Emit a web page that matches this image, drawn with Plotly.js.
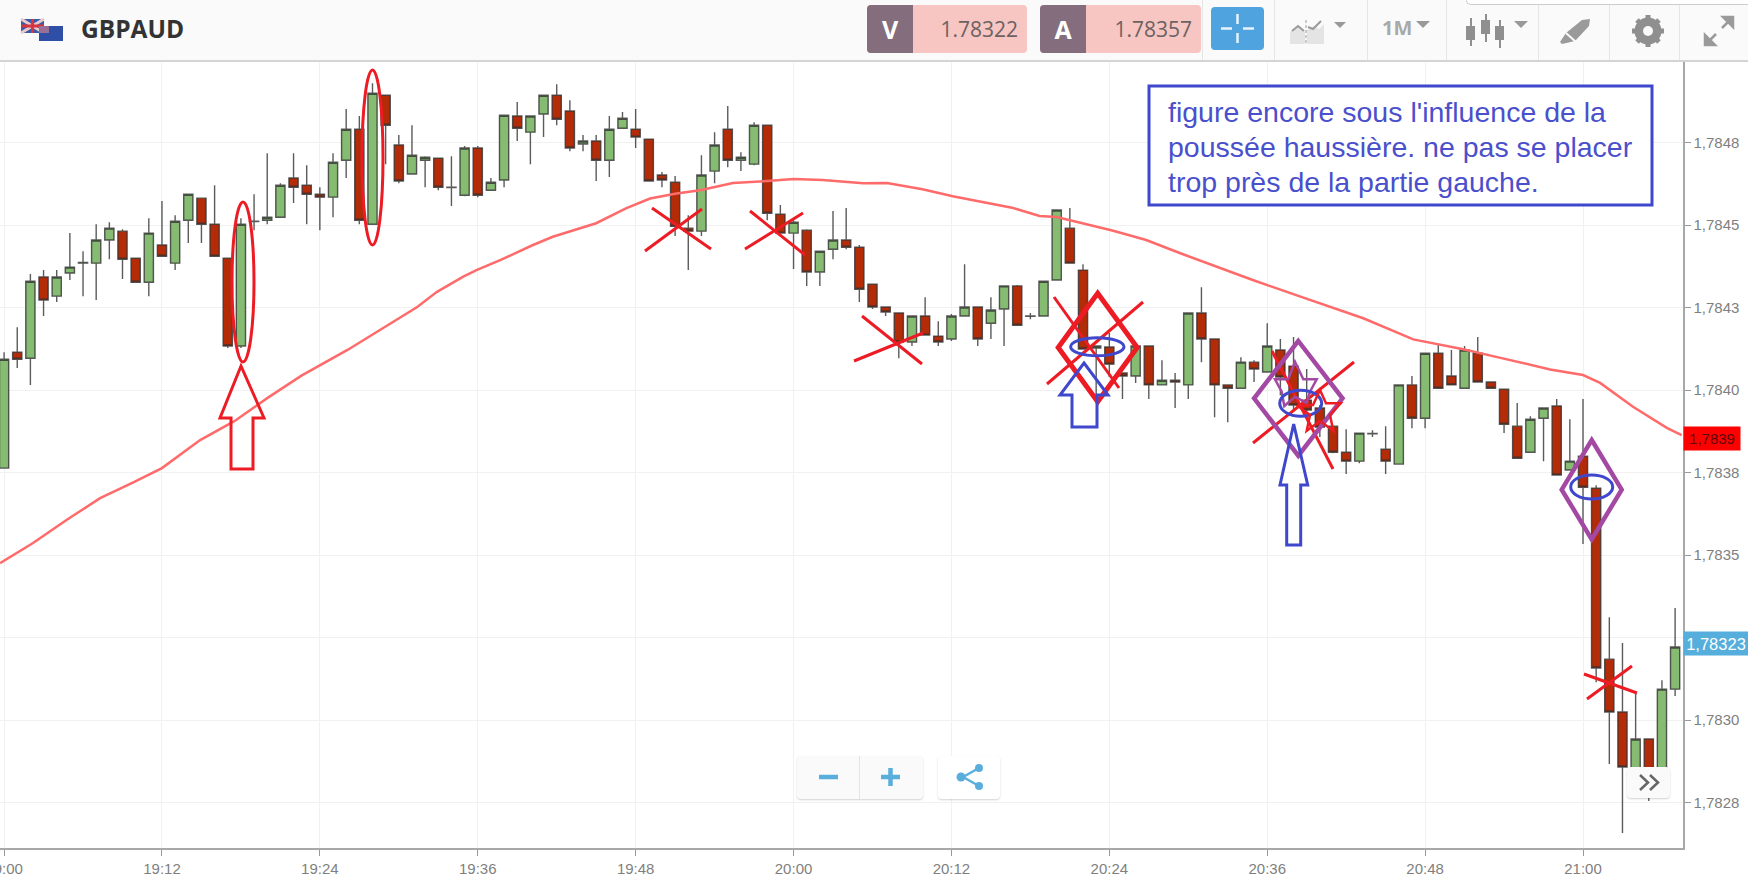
<!DOCTYPE html>
<html>
<head>
<meta charset="utf-8">
<title>GBPAUD</title>
<script src="https://cdn.plot.ly/plotly-3.0.1.min.js"></script>
<style>
  html, body { margin: 0; padding: 0; background: #fff; overflow: hidden; }
  #chart { position: absolute; left: 0; top: 0; width: 1748px; height: 888px; }
  #bar { position: absolute; left: 0; top: 0; width: 1748px; height: 60px; background: #fafafa; border-bottom: 2px solid #d4d4d4; font-family: "Open Sans", sans-serif; }
  .abs { position: absolute; box-sizing: border-box; }
  .pair { top: 5px; height: 48px; font-size: 21px; color: #6b6263; background: #f7c5c2; border-radius: 4px; text-align: right; line-height: 48px; padding-right: 9px; }
  .side { left: 0; top: 0; width: 46px; height: 48px; background: #846e7e; color: #fff; font-weight: 700; font-size: 25px; text-align: center; border-radius: 4px 0 0 4px; }
  .sep { top: 0; width: 1px; height: 60px; background: #e6e6e6; }
  .ctl { background: #fafafa; border-radius: 4px; box-shadow: 0 1px 2px rgba(0,0,0,.18); }
</style>
</head>
<body>
<div id="chart"></div>
<div id="bar">
  <svg class="abs" style="left:20px;top:18px" width="46" height="24" viewBox="0 0 46 24">
    <rect x="1" y="1" width="23" height="14" fill="#3b5aa8"/>
    <path d="M1 1L24 15M24 1L1 15" stroke="#e8c9cc" stroke-width="3"/>
    <path d="M12.5 1V15M1 8H24" stroke="#d8343f" stroke-width="3"/>
    <rect x="19" y="8" width="24" height="15" fill="#2f4fa6"/>
    <rect x="19" y="8" width="10" height="7" fill="#9a6f96"/>
  </svg>
  <div class="abs" style="left:81px;top:12px;font-size:24.5px;font-weight:700;color:#333">GBPAUD</div>
  <div class="abs pair" style="left:867px;width:160px"><div class="abs side">V</div>1.78322</div>
  <div class="abs pair" style="left:1040px;width:161px"><div class="abs side">A</div>1.78357</div>
  <div class="abs sep" style="left:1202px"></div>
  <div class="abs sep" style="left:1274px"></div>
  <div class="abs sep" style="left:1367px"></div>
  <div class="abs sep" style="left:1446px"></div>
  <div class="abs sep" style="left:1538px"></div>
  <div class="abs sep" style="left:1609px"></div>
  <div class="abs sep" style="left:1679px"></div>
  <div class="abs" style="left:1211px;top:7px;width:53px;height:43px;background:#4fa3de;border-radius:4px"></div>
  <svg class="abs" style="left:1211px;top:7px" width="53" height="43">
    <path d="M26.5 7V17M26.5 26V36M10 21.5H21M32 21.5H43" stroke="#e8f3fb" stroke-width="2.5"/>
  </svg>
  <svg class="abs" style="left:1290px;top:14px" width="70" height="32">
    <path d="M0 18L8 12L15 18L15 30L0 30Z" fill="#e4e4e4"/>
    <path d="M17 30V16L24 12L29 15L34 10V30Z" fill="#e4e4e4"/>
    <path d="M2 17L8 12L14 17M18 13L23 15L31 7" fill="none" stroke="#9a9a9a" stroke-width="2"/>
    <path d="M16 6V31" stroke="#bbb" stroke-width="1.5" stroke-dasharray="3 2"/>
    <path d="M44 8H56L50 14Z" fill="#999"/>
  </svg>
  <div class="abs" style="left:1382px;top:14px;font-size:20px;font-weight:700;color:#a9a9a9">1M</div>
  <svg class="abs" style="left:1415px;top:20px" width="20" height="10"><path d="M1 1H15L8 8Z" fill="#999"/></svg>
  <svg class="abs" style="left:1464px;top:12px" width="70" height="38">
    <path d="M7 6V34M22 2V30M36 8V36" stroke="#8f8f8f" stroke-width="2"/>
    <rect x="2" y="14" width="9" height="14" fill="#8f8f8f"/>
    <rect x="17" y="8" width="9" height="14" fill="#8f8f8f"/>
    <rect x="31" y="14" width="9" height="14" fill="#8f8f8f"/>
    <path d="M50 9H64L57 16Z" fill="#999"/>
  </svg>
  <svg class="abs" style="left:1558px;top:16px" width="36" height="30">
    <path d="M2 26L8 17L24 4L32 3L31 10L17 25L4 28Z" fill="#9a9a9a"/>
    <path d="M8 17L18 26" stroke="#fafafa" stroke-width="2"/>
  </svg>
  <svg class="abs" style="left:1630px;top:13px" width="36" height="36" viewBox="0 0 36 36">
    <circle cx="18" cy="18" r="10" fill="none" stroke="#8f8f8f" stroke-width="7"/>
    <path d="M18 2V34M2 18H34M7 7L29 29M29 7L7 29" stroke="#8f8f8f" stroke-width="5"/>
    <circle cx="18" cy="18" r="5" fill="#fafafa"/>
  </svg>
  <svg class="abs" style="left:1702px;top:15px" width="34" height="32">
    <path d="M21 2H31V12ZM3 30V20L13 30ZM29 4L20 13M5 28L14 19" fill="#9a9a9a" stroke="#9a9a9a" stroke-width="2.5"/>
  </svg>
  <div class="abs" style="left:1466px;top:-4px;width:290px;height:9px;background:#fff;border:1px solid #ccc;border-radius:6px"></div>
</div>
<div class="abs ctl" style="left:797px;top:756px;width:126px;height:43px"></div>
<div class="abs" style="left:859px;top:756px;width:1px;height:43px;background:#e4e4e4"></div>
<div class="abs ctl" style="left:938px;top:756px;width:62px;height:43px;background:#fff"></div>
<svg class="abs" style="left:797px;top:756px" width="203" height="43">
  <path d="M22 21H41M84 21H103M93.500 12V30" stroke="#5aaedc" stroke-width="4.500"/>
  <path d="M166 21L182 12M166 21L182 30" stroke="#5aaedc" stroke-width="2.500"/>
  <circle cx="164" cy="21" r="4.500" fill="#5aaedc"/>
  <circle cx="182" cy="12" r="4" fill="#5aaedc"/>
  <circle cx="182" cy="30" r="4" fill="#5aaedc"/>
</svg>
<div class="abs ctl" style="left:1627px;top:767px;width:43px;height:31px"></div>
<svg class="abs" style="left:1627px;top:767px" width="43" height="31">
  <path d="M13 8L21 15.500L13 23M23 8L31 15.500L23 23" fill="none" stroke="#666" stroke-width="2.500"/>
</svg>
<script>
// candles, one per minute from 19:00 (index = minutes after 19:00)
const opens = [
  1.783764, 1.784115, 1.784097, 1.784343, 1.784285, 1.784355, 1.784385, 1.784385, 1.784455, 1.784482,
  1.784400, 1.784327, 1.784440, 1.784385, 1.784515, 1.784582, 1.784503, 1.784400, 1.784134, 1.784511,
  1.784515, 1.784524, 1.784643, 1.784621, 1.784594, 1.784585, 1.784697, 1.784791, 1.784503, 1.784894,
  1.784743, 1.784655, 1.784697, 1.784703, 1.784614, 1.784591, 1.784734, 1.784606, 1.784637, 1.784831,
  1.784782, 1.784837, 1.784894, 1.784846, 1.784746, 1.784755, 1.784697, 1.784794, 1.784791, 1.784761,
  1.784652, 1.784630, 1.784491, 1.784482, 1.784664, 1.784791, 1.784697, 1.784685, 1.784803, 1.784533,
  1.784476, 1.784485, 1.784358, 1.784427, 1.784455, 1.784433, 1.784321, 1.784252, 1.784234, 1.784146,
  1.784225, 1.784164, 1.784155, 1.784225, 1.784252, 1.784203, 1.784246, 1.784316, 1.784224, 1.784225,
  1.784334, 1.784491, 1.784364, 1.784128, 1.784131, 1.784052, 1.784043, 1.784134, 1.784016, 1.784030,
  1.784016, 1.784234, 1.784155, 1.784016, 1.784006, 1.784085, 1.784055, 1.784122, 1.784073, 1.783970,
  1.783946, 1.783891, 1.783812, 1.783785, 1.783868, 1.783821, 1.783776, 1.784016, 1.783915, 1.784112,
  1.784043, 1.784006, 1.784112, 1.784025, 1.784003, 1.783891, 1.783812, 1.783915, 1.783952, 1.783758,
  1.783800, 1.783703, 1.783185, 1.783025, 1.782803, 1.782943, 1.782849, 1.783094
]
const closes = [
  1.784094, 1.784094, 1.784330, 1.784273, 1.784343, 1.784373, 1.784387, 1.784455, 1.784491, 1.784397,
  1.784327, 1.784476, 1.784406, 1.784512, 1.784594, 1.784503, 1.784406, 1.784134, 1.784503, 1.784512,
  1.784524, 1.784621, 1.784615, 1.784594, 1.784585, 1.784691, 1.784791, 1.784515, 1.784900, 1.784803,
  1.784634, 1.784712, 1.784706, 1.784615, 1.784615, 1.784734, 1.784591, 1.784630, 1.784833, 1.784794,
  1.784831, 1.784894, 1.784821, 1.784734, 1.784755, 1.784697, 1.784791, 1.784824, 1.784767, 1.784634,
  1.784637, 1.784497, 1.784482, 1.784652, 1.784743, 1.784697, 1.784706, 1.784803, 1.784536, 1.784476,
  1.784509, 1.784358, 1.784421, 1.784455, 1.784433, 1.784306, 1.784252, 1.784237, 1.784146, 1.784225,
  1.784167, 1.784146, 1.784225, 1.784252, 1.784155, 1.784243, 1.784316, 1.784197, 1.784225, 1.784330,
  1.784546, 1.784385, 1.784125, 1.784134, 1.784079, 1.784043, 1.784134, 1.784016, 1.784030, 1.784025,
  1.784234, 1.784155, 1.784016, 1.784006, 1.784085, 1.784064, 1.784134, 1.784040, 1.783955, 1.783940,
  1.783888, 1.783812, 1.783785, 1.783870, 1.783869, 1.783785, 1.784016, 1.783915, 1.784112, 1.784006,
  1.784016, 1.784122, 1.784025, 1.784006, 1.783897, 1.783794, 1.783912, 1.783946, 1.783743, 1.783785,
  1.783706, 1.783158, 1.783025, 1.782858, 1.782943, 1.782803, 1.783094, 1.783222
]
const highs = [
  1.784115, 1.784191, 1.784352, 1.784364, 1.784364, 1.784476, 1.784421, 1.784503, 1.784509, 1.784488,
  1.784400, 1.784521, 1.784573, 1.784530, 1.784594, 1.784582, 1.784621, 1.784400, 1.784521, 1.784594,
  1.784718, 1.784627, 1.784718, 1.784682, 1.784615, 1.784718, 1.784852, 1.784831, 1.784930, 1.784894,
  1.784773, 1.784803, 1.784709, 1.784703, 1.784709, 1.784740, 1.784740, 1.784643, 1.784834, 1.784873,
  1.784831, 1.784894, 1.784927, 1.784879, 1.784773, 1.784773, 1.784831, 1.784843, 1.784852, 1.784761,
  1.784661, 1.784649, 1.784530, 1.784712, 1.784782, 1.784861, 1.784721, 1.784812, 1.784803, 1.784561,
  1.784515, 1.784488, 1.784421, 1.784543, 1.784552, 1.784440, 1.784321, 1.784252, 1.784234, 1.784225,
  1.784282, 1.784209, 1.784231, 1.784382, 1.784252, 1.784282, 1.784316, 1.784319, 1.784234, 1.784330,
  1.784546, 1.784552, 1.784382, 1.784134, 1.784173, 1.784052, 1.784134, 1.784134, 1.784091, 1.784052,
  1.784234, 1.784312, 1.784155, 1.784016, 1.784100, 1.784091, 1.784203, 1.784155, 1.784161, 1.784064,
  1.783955, 1.783891, 1.783882, 1.783870, 1.783879, 1.783891, 1.784016, 1.784043, 1.784112, 1.784137,
  1.784122, 1.784134, 1.784161, 1.784025, 1.784003, 1.783961, 1.783921, 1.783946, 1.783973, 1.783912,
  1.783973, 1.783712, 1.783312, 1.783234, 1.783082, 1.782943, 1.783121, 1.783340
]
const lows = [
  1.783764, 1.784067, 1.784016, 1.784225, 1.784267, 1.784334, 1.784285, 1.784273, 1.784397, 1.784337,
  1.784327, 1.784285, 1.784406, 1.784364, 1.784446, 1.784446, 1.784406, 1.784128, 1.784128, 1.784485,
  1.784503, 1.784524, 1.784567, 1.784503, 1.784485, 1.784524, 1.784643, 1.784503, 1.784503, 1.784685,
  1.784627, 1.784655, 1.784615, 1.784606, 1.784558, 1.784588, 1.784585, 1.784606, 1.784615, 1.784755,
  1.784685, 1.784767, 1.784803, 1.784724, 1.784724, 1.784634, 1.784646, 1.784794, 1.784734, 1.784634,
  1.784615, 1.784467, 1.784364, 1.784467, 1.784627, 1.784676, 1.784664, 1.784682, 1.784515, 1.784476,
  1.784367, 1.784316, 1.784316, 1.784397, 1.784427, 1.784267, 1.784246, 1.784225, 1.784097, 1.784134,
  1.784167, 1.784134, 1.784149, 1.784225, 1.784134, 1.784155, 1.784134, 1.784197, 1.784215, 1.784225,
  1.784334, 1.784385, 1.784125, 1.783979, 1.784040, 1.783973, 1.784022, 1.783973, 1.784016, 1.783946,
  1.783973, 1.784085, 1.783918, 1.783903, 1.784006, 1.784025, 1.784055, 1.783985, 1.783940, 1.783928,
  1.783858, 1.783809, 1.783746, 1.783779, 1.783858, 1.783746, 1.783776, 1.783885, 1.783885, 1.784006,
  1.784016, 1.784006, 1.784025, 1.784006, 1.783870, 1.783794, 1.783812, 1.783785, 1.783743, 1.783758,
  1.783534, 1.783115, 1.782867, 1.782658, 1.782773, 1.782755, 1.782834, 1.783073
]
const minutes = opens.map((_, i) => i)

// moving average
const maMinutes = [
  -0.31, 2.2, 4.8, 7.3, 9.9, 12, 14.9, 17.5, 20, 22.6, 26.1, 30.1, 31.4, 32.9, 34.9, 35.9, 37.7,
  40.2, 41.7, 45, 47.3, 49.1, 51.1, 52.9, 55.4, 58, 60, 62.2, 65.3, 67.1, 69.8, 72.1, 76.7, 78.7,
  80, 84.3, 86.8, 89.4, 94.9, 98.2, 103.3, 107.1, 110.9, 113.4, 116, 117.5, 120, 121.3, 123.8, 126.4, 127.5
]
const maValues = [
  1.783476, 1.783537, 1.783608, 1.783673, 1.783722, 1.783764, 1.783849, 1.783906, 1.783976, 1.784044,
  1.784122, 1.784222, 1.784252, 1.784298, 1.784344, 1.784364, 1.784394, 1.784440, 1.784465, 1.784506,
  1.784552, 1.784581, 1.784596, 1.784606, 1.784628, 1.784634, 1.784640, 1.784637, 1.784627, 1.784628,
  1.784609, 1.784588, 1.784552, 1.784528, 1.784525, 1.784483, 1.784455, 1.784415, 1.784334, 1.784288,
  1.784218, 1.784154, 1.784124, 1.784101, 1.784076, 1.784063, 1.784046, 1.784022, 1.783950, 1.783885, 1.783864
]

const timeTicks = [0, 12, 24, 36, 48, 60, 72, 84, 96, 108, 120]
const timeLabels = ['19:00', '19:12', '19:24', '19:36', '19:48', '20:00', '20:12', '20:24', '20:36', '20:48', '21:00']
const priceTicks = [1.78275, 1.783, 1.78325, 1.7835, 1.78375, 1.784, 1.78425, 1.7845, 1.78475]
const priceLabels = ['1,7828', '1,7830', '', '1,7835', '1,7838', '1,7840', '1,7843', '1,7845', '1,7848']

const noteLines = ["figure encore sous l'influence de la", 'poussée haussière. ne pas se placer', 'trop près de la partie gauche.']

// the drawing tools on the screenshot are given in page pixels
const PLOT_W = 1683, PLOT_H = 787, PLOT_TOP = 61
const RED = '#ed1c24', BLUE = '#3f48cc', PURPLE = '#a349a4'
const fx = x => x / PLOT_W
const fy = y => 1 - (y - PLOT_TOP) / PLOT_H

function path(points, color, width, closed) {
  const d = points.map((p, i) => (i ? 'L' : 'M') + fx(p[0]) + ' ' + fy(p[1])).join(' ')
  return { type: 'path', xref: 'paper', yref: 'paper', path: d + (closed ? ' Z' : ''), line: { color, width } }
}
function ellipse(cx, cy, rx, ry, color, width) {
  return {
    type: 'circle', xref: 'paper', yref: 'paper',
    x0: fx(cx - rx), x1: fx(cx + rx), y0: fy(cy + ry), y1: fy(cy - ry),
    line: { color, width }
  }
}
function cross(a, b, c, d) {
  return [path([a, b], RED, 3), path([c, d], RED, 3)]
}
function arrow(tip, baseY, left, right, shaftL, shaftR, bottom, color) {
  return path([[tip[0], tip[1]], [right, baseY], [shaftR, baseY], [shaftR, bottom], [shaftL, bottom], [shaftL, baseY], [left, baseY]], color, 3, true)
}
function diamond(cx, top, bottom, halfW, color, width) {
  const midY = (top + bottom) / 2
  return path([[cx, top], [cx + halfW, midY], [cx, bottom], [cx - halfW, midY]], color, width, true)
}

const drawings = [
  ellipse(243, 282, 11, 80, RED, 3),
  ellipse(372.5, 157.5, 10.5, 87.5, RED, 3),
  arrow([241, 366], 418, 220, 264, 231, 253, 469, RED),
  ...cross([652, 208], [711, 249], [645, 251], [702, 209]),
  ...cross([750, 211], [805, 255], [745, 249], [803, 213]),
  ...cross([862, 316], [922, 364], [854, 361], [923, 333]),
  ...cross([1054, 297], [1119, 388], [1047, 384], [1143, 302]),
  diamond(1097.7, 293.3, 401.7, 39.5, RED, 5),
  ellipse(1097.3, 346.7, 26.7, 9, BLUE, 3),
  arrow([1084, 363], 395, 1060, 1108, 1072, 1097, 427, BLUE),
  ...cross([1272, 351], [1333, 469], [1253, 443], [1354, 362]),
  diamond(1298.3, 341, 455.7, 44.2, PURPLE, 4.5),
  path([[1295, 361.7], [1303.3, 379.3], [1316.7, 379.3], [1310, 391.7], [1306.7, 403], [1295, 396.7], [1284.3, 406], [1281.7, 391.7], [1275, 379.3], [1288.3, 379.3]], PURPLE, 2.5, true),
  ellipse(1300.7, 403.3, 21, 13, BLUE, 3),
  arrow([1293.7, 424], 485, 1280, 1307.7, 1286.7, 1300.7, 545, BLUE),
  path([[1320, 390], [1326, 403.3], [1340.7, 403.3], [1330, 415], [1333.3, 430.7], [1320, 421], [1306.7, 430.7], [1310, 415], [1298, 406], [1313, 405]], RED, 2.5, true),
  diamond(1591.7, 440, 539.3, 30, PURPLE, 4.5),
  ellipse(1591.7, 487, 21, 12, BLUE, 3),
  ...cross([1584, 674], [1637, 693], [1587, 699], [1632, 666]),
  { type: 'rect', xref: 'paper', yref: 'paper', x0: fx(1149), x1: fx(1652), y0: fy(205), y1: fy(86), fillcolor: '#fff', line: { color: BLUE, width: 3 } }
]

const noteY = [112, 147, 182]
const notes = noteLines.map((text, i) => ({
  text, xref: 'paper', yref: 'paper', x: fx(1166), y: fy(noteY[i]),
  xanchor: 'left', yanchor: 'middle', showarrow: false,
  font: { family: 'Liberation Sans, Arial, sans-serif', size: 28.5, color: '#4a50cc' }
}))

const badges = [
  { text: '1,7839', y: 1.783855, bgcolor: '#ff0000', font: { size: 15, color: '#5a0a0a', family: 'Liberation Sans' }, width: 56, height: 23 },
  { text: '1,78323', y: 1.783232, bgcolor: '#55aedc', font: { size: 16.5, color: '#fff', family: 'Liberation Sans' }, width: 64, height: 23 }
].map(b => ({ ...b, xref: 'paper', yref: 'y', x: 1, xanchor: 'left', yanchor: 'middle', showarrow: false, borderpad: 0 }))

const candles = {
  type: 'candlestick',
  x: minutes,
  open: opens,
  high: highs,
  low: lows,
  close: closes,
  whiskerwidth: 0,
  increasing: { fillcolor: '#86bb72', line: { color: 'rgba(50,50,50,0.8)', width: 1.4 } },
  decreasing: { fillcolor: '#b42b08', line: { color: 'rgba(50,50,50,0.8)', width: 1.4 } },
  hoverinfo: 'skip'
}
const average = {
  type: 'scatter',
  mode: 'lines',
  x: maMinutes,
  y: maValues,
  line: { color: '#ff6a6a', width: 2.5 },
  hoverinfo: 'skip'
}

const layout = {
  width: 1748,
  height: 888,
  margin: { l: 0, r: 65, t: 61, b: 40, pad: 0 },
  paper_bgcolor: '#fff',
  plot_bgcolor: '#fff',
  showlegend: false,
  boxgap: 0.3,
  boxgroupgap: 0,
  font: { family: 'Liberation Sans, Arial, sans-serif' },
  xaxis: {
    type: 'linear',
    range: [-0.31, 127.6],
    tickmode: 'array',
    tickvals: timeTicks,
    ticktext: timeLabels,
    ticklabeloverflow: 'allow',
    ticks: 'outside',
    ticklen: 6,
    tickcolor: '#999',
    tickfont: { size: 15, color: '#7f7f7f' },
    gridcolor: '#f1f1f1',
    showline: true,
    linecolor: '#a8a8a8',
    linewidth: 1.5,
    zeroline: false,
    rangeslider: { visible: false }
  },
  yaxis: {
    side: 'right',
    range: [1.7826127, 1.7849976],
    tickmode: 'array',
    tickvals: priceTicks,
    ticktext: priceLabels,
    ticks: 'outside',
    ticklen: 6,
    tickcolor: '#999',
    tickfont: { size: 15, color: '#7f7f7f' },
    gridcolor: '#f1f1f1',
    showline: true,
    linecolor: '#a8a8a8',
    linewidth: 1.5,
    zeroline: false
  },
  shapes: drawings,
  annotations: [...notes, ...badges]
}

Plotly.newPlot('chart', [candles, average], layout, { displayModeBar: false, staticPlot: true })
</script>
</body>
</html>
